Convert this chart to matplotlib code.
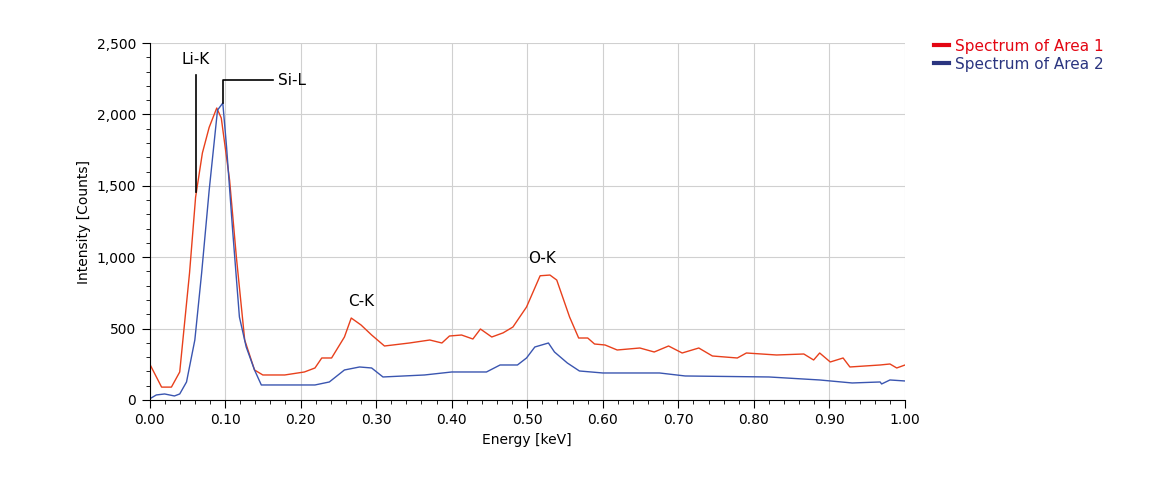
import matplotlib.pyplot as plt
from matplotlib.ticker import MultipleLocator, FuncFormatter

# spectrum of area 1 (red)
energy_1 = [0.0, 0.016, 0.029, 0.04, 0.053, 0.061, 0.07, 0.079, 0.089, 0.095, 0.106, 0.115,
            0.126, 0.139, 0.15, 0.179, 0.205, 0.219, 0.228, 0.241, 0.258, 0.267, 0.28, 0.294,
            0.311, 0.344, 0.371, 0.387, 0.397, 0.413, 0.428, 0.438, 0.453, 0.468, 0.481,
            0.499, 0.517, 0.53, 0.539, 0.556, 0.568, 0.58, 0.589, 0.603, 0.619, 0.649, 0.668,
            0.687, 0.705, 0.727, 0.745, 0.778, 0.79, 0.83, 0.866, 0.879, 0.887, 0.901, 0.918,
            0.927, 0.967, 0.98, 0.989, 1.0]
counts_1 = [255, 90, 90, 196, 890, 1420, 1730, 1910, 2045, 1975, 1540, 1000,
            420, 210, 175, 175, 196, 224, 294, 294, 441, 574, 525, 455,
            378, 399, 420, 399, 448, 455, 427, 497, 441, 470, 511,
            651, 870, 875, 840, 581, 434, 434, 392, 385, 350, 364, 336,
            378, 329, 364, 308, 294, 329, 315, 322, 280, 329, 266, 294,
            231, 245, 252, 224, 245]

# spectrum of area 2 (blue)
energy_2 = [0.0, 0.009, 0.02, 0.033, 0.04, 0.049, 0.06, 0.069, 0.079, 0.09, 0.097, 0.102,
            0.11, 0.119, 0.128, 0.139, 0.148, 0.219, 0.238, 0.258, 0.278, 0.294, 0.309,
            0.364, 0.4, 0.446, 0.464, 0.487, 0.499, 0.51, 0.528, 0.536, 0.553, 0.569, 0.6,
            0.675, 0.709, 0.82, 0.887, 0.93, 0.967, 0.969, 0.98, 1.0]
counts_2 = [7, 35, 42, 28, 42, 126, 420, 889, 1470, 2030, 2080, 1772,
            1190, 581, 371, 210, 105, 105, 126, 210, 231, 224, 161,
            175, 196, 196, 245, 245, 294, 371, 399, 336, 259, 203, 189,
            189, 168, 161, 140, 119, 126, 112, 140, 133]

fig = plt.figure(figsize=(11.5, 4.95), dpi=100)
ax = fig.add_axes([0.13, 0.192, 0.657, 0.721])

ax.plot(energy_1, counts_1, color="#e8401c", lw=1.0, label="Spectrum of Area 1")
ax.plot(energy_2, counts_2, color="#3a55b0", lw=1.0, label="Spectrum of Area 2")

ax.set_xlim(0, 1.0)
ax.set_ylim(0, 2500)
ax.xaxis.set_major_locator(MultipleLocator(0.1))
ax.xaxis.set_minor_locator(MultipleLocator(0.02))
ax.yaxis.set_major_locator(MultipleLocator(500))
ax.yaxis.set_minor_locator(MultipleLocator(100))
ax.xaxis.set_major_formatter(FuncFormatter(lambda v, p: f"{v:.2f}"))
ax.yaxis.set_major_formatter(FuncFormatter(lambda v, p: f"{v:,.0f}"))
ax.tick_params(which="major", length=6, labelsize=10)
ax.tick_params(which="minor", length=3)
ax.grid(True, color="#d0d0d0", lw=0.8)
ax.spines["top"].set_visible(False)
ax.spines["right"].set_visible(False)
ax.set_xlabel("Energy [keV]", fontsize=10)
ax.set_ylabel("Intensity [Counts]", fontsize=10)

# peak labels
ax.plot([0.061, 0.061], [1456, 2275], color="black", lw=1.2)
ax.text(0.061, 2330, "Li-K", ha="center", va="bottom", fontsize=11)
ax.plot([0.097, 0.097, 0.163], [2080, 2240, 2240], color="black", lw=1.2)
ax.text(0.17, 2240, "Si-L", ha="left", va="center", fontsize=11)
ax.text(0.28, 640, "C-K", ha="center", va="bottom", fontsize=11)
ax.text(0.52, 940, "O-K", ha="center", va="bottom", fontsize=11)

leg = fig.legend(loc="upper left", bbox_to_anchor=(0.8, 0.95), frameon=False,
                 handlelength=1.0, handletextpad=0.4, fontsize=11, labelspacing=0.2)
for line in leg.get_lines():
    line.set_linewidth(3)
leg.get_lines()[0].set_color("#e30613")
leg.get_lines()[1].set_color("#2b3580")
leg.get_texts()[0].set_color("#e30613")
leg.get_texts()[1].set_color("#2b3580")

fig.savefig("out.png", dpi=100)
